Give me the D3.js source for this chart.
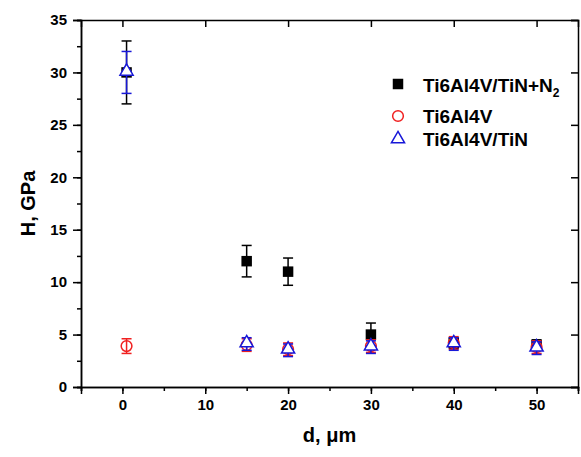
<!DOCTYPE html>
<html>
<head>
<meta charset="utf-8">
<style>
  body { margin: 0; background: #fff; }
  svg { font-family: "Liberation Sans", Arial, sans-serif; font-weight: bold; }
</style>
</head>
<body>
<svg id="chart" width="581" height="457"></svg>
<script src="https://cdn.jsdelivr.net/npm/d3@7/dist/d3.min.js"></script>
<script>
// data: distance d (um), hardness H (GPa), error
var dPos = [0.5, 15, 20, 30, 40, 50];

var nitridedH   = [30, 12, 11, 5, 4.2, 4.0];
var nitridedErr = [3, 1.5, 1.3, 1.1, 0.5, 0.5];

var alloyH   = [3.9, 4.0, 3.6, 3.9, 4.2, 3.8];
var alloyErr = [0.7, 0.6, 0.6, 0.6, 0.6, 0.6];

var coatedH   = [30, 4.1, 3.5, 3.8, 4.1, 3.7];
var coatedErr = [2, 0.6, 0.6, 0.6, 0.6, 0.6];

var xTicks = [0, 10, 20, 30, 40, 50];
var yTicks = [0, 5, 10, 15, 20, 25, 30, 35];

var svg = d3.select("#chart");
var pLeft = 81, pRight = 578, pTop = 20, pBottom = 387;

var x = d3.scaleLinear().domain([-5, 55]).range([pLeft, pRight]);
var y = d3.scaleLinear().domain([0, 35]).range([pBottom, pTop]);

// axes
var minorX = d3.range(-5, 56, 5);
var minorY = d3.range(0, 35.1, 2.5);

function styleAxis(g) {
  g.attr("font-size", 15).attr("font-weight", "bold")
   .attr("font-family", "Liberation Sans, Arial, sans-serif");
  g.selectAll(".domain").attr("stroke", "#000").attr("stroke-width", 1.5);
  g.selectAll(".tick line").attr("stroke", "#000").attr("stroke-width", 1.5);
  g.selectAll(".tick text").attr("fill", "#000");
}

svg.append("g").attr("transform", "translate(0," + pBottom + ")")
  .call(d3.axisBottom(x).tickValues(minorX).tickSize(4).tickFormat("")).call(styleAxis);
svg.append("g").attr("transform", "translate(0," + pBottom + ")")
  .call(d3.axisBottom(x).tickValues(xTicks).tickSize(7).tickPadding(5).tickFormat(d3.format("d"))).call(styleAxis);
svg.append("g").attr("transform", "translate(0," + pTop + ")")
  .call(d3.axisBottom(x).tickValues(xTicks).tickSize(7).tickFormat("")).call(styleAxis);

svg.append("g").attr("transform", "translate(" + pLeft + ",0)")
  .call(d3.axisLeft(y).tickValues(minorY).tickSize(4).tickFormat("")).call(styleAxis);
svg.append("g").attr("transform", "translate(" + pLeft + ",0)")
  .call(d3.axisLeft(y).tickValues(yTicks).tickSize(8).tickPadding(6).tickFormat(d3.format("d"))).call(styleAxis);
svg.append("g").attr("transform", "translate(" + pRight + ",0)")
  .call(d3.axisLeft(y).tickValues(yTicks).tickSize(7).tickFormat("")).call(styleAxis);

// axis titles
svg.append("text").attr("x", (pLeft + pRight) / 2).attr("y", 442)
  .attr("text-anchor", "middle").attr("font-size", 20).text("d, μm");
svg.append("text").attr("transform", "translate(35," + ((pTop + pBottom) / 2) + ") rotate(-90)")
  .attr("text-anchor", "middle").attr("font-size", 20).text("H, GPa");

// series
function errorBars(vals, errs, color) {
  var g = svg.append("g").attr("stroke", color).attr("stroke-width", 1.5);
  dPos.forEach(function(d, i) {
    var cx = x(d), y1 = y(vals[i] + errs[i]), y2 = y(vals[i] - errs[i]);
    g.append("line").attr("x1", cx).attr("x2", cx).attr("y1", y1).attr("y2", y2);
    g.append("line").attr("x1", cx - 5).attr("x2", cx + 5).attr("y1", y1).attr("y2", y1);
    g.append("line").attr("x1", cx - 5).attr("x2", cx + 5).attr("y1", y2).attr("y2", y2);
  });
}

var sq = d3.symbol().type(d3.symbolSquare).size(110);
var ci = d3.symbol().type(d3.symbolCircle).size(90);
var tr = d3.symbol().type(d3.symbolTriangle).size(75);

errorBars(nitridedH, nitridedErr, "#000");
svg.append("g").selectAll("path").data(nitridedH).join("path")
  .attr("d", sq).attr("fill", "#000")
  .attr("transform", function(v, i) { return "translate(" + x(dPos[i]) + "," + y(v) + ")"; });

errorBars(alloyH, alloyErr, "#f02020");
svg.append("g").selectAll("path").data(alloyH).join("path")
  .attr("d", ci).attr("fill", "none").attr("stroke", "#f02020").attr("stroke-width", 1.5)
  .attr("transform", function(v, i) { return "translate(" + x(dPos[i]) + "," + y(v) + ")"; });

errorBars(coatedH, coatedErr, "#1818d8");
svg.append("g").selectAll("path").data(coatedH).join("path")
  .attr("d", tr).attr("fill", "#fff").attr("stroke", "#1818d8").attr("stroke-width", 1.5)
  .attr("transform", function(v, i) { return "translate(" + x(dPos[i]) + "," + (y(v) - 1) + ")"; });

// legend
var lg = svg.append("g");
lg.append("path").attr("d", sq).attr("fill", "#000").attr("transform", "translate(398,84)");
lg.append("path").attr("d", ci).attr("fill", "none").attr("stroke", "#f02020").attr("stroke-width", 1.5)
  .attr("transform", "translate(398,116)");
lg.append("path").attr("d", tr).attr("fill", "#fff").attr("stroke", "#1818d8").attr("stroke-width", 1.5)
  .attr("transform", "translate(398,139)");

var t1 = lg.append("text").attr("x", 423).attr("y", 92).attr("font-size", 19);
t1.append("tspan").text("Ti6Al4V/TiN+N");
t1.append("tspan").attr("font-size", 12).attr("dy", 5).text("2");
lg.append("text").attr("x", 423).attr("y", 123).attr("font-size", 19).text("Ti6Al4V");
lg.append("text").attr("x", 423).attr("y", 146).attr("font-size", 19).text("Ti6Al4V/TiN");
</script>
</body>
</html>
